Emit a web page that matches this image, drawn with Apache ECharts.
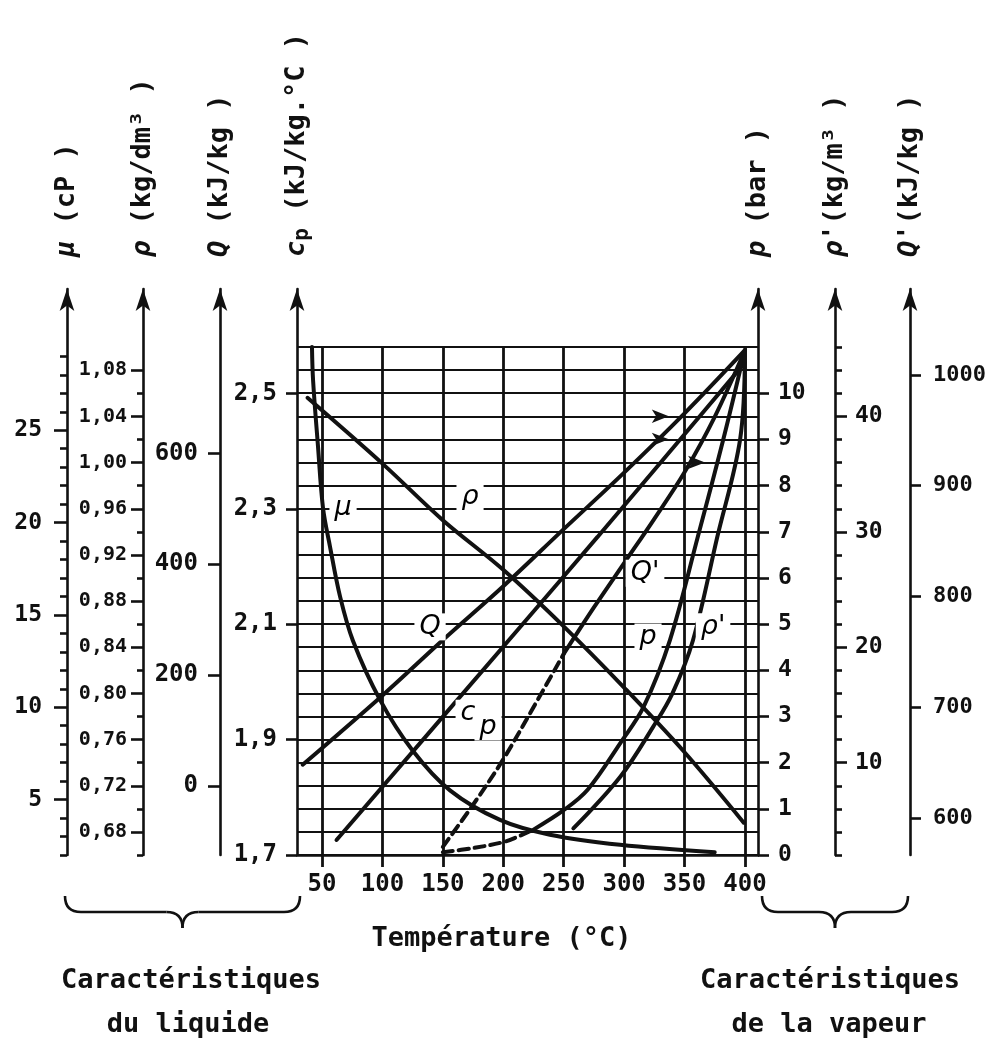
<!DOCTYPE html>
<html><head><meta charset="utf-8">
<script src="https://cdn.jsdelivr.net/npm/echarts@6/dist/echarts.min.js"></script>
<style>html,body{margin:0;padding:0;background:#fff}#c{width:990px;height:1043px}</style>
</head><body><div id="c"></div>
<script>
// ---------- tick values ----------
const tempTicks  = [50, 100, 150, 200, 250, 300, 350, 400];
const muMajor    = [5, 10, 15, 20, 25];
const muMinor    = [2, 3, 4, 6, 7, 8, 9, 11, 12, 13, 14, 16, 17, 18, 19, 21, 22, 23, 24, 26, 27, 28, 29];
const rhoMajor   = [0.68, 0.72, 0.76, 0.80, 0.84, 0.88, 0.92, 0.96, 1.00, 1.04, 1.08];
const rhoMinor   = [0.66, 0.70, 0.74, 0.78, 0.82, 0.86, 0.90, 0.94, 0.98, 1.02, 1.06];
const qMajor     = [0, 200, 400, 600];
const cpMajor    = [1.7, 1.9, 2.1, 2.3, 2.5];
const pMajor     = [0, 1, 2, 3, 4, 5, 6, 7, 8, 9, 10];
const rhoVMajor  = [10, 20, 30, 40];
const rhoVMinor  = [2, 4, 6, 8, 12, 14, 16, 18, 22, 24, 26, 28, 32, 34, 36, 38, 42, 44, 46];
const qVMajor    = [600, 700, 800, 900, 1000];

// ---------- series values: [temperature °C, value in own unit] ----------
const muData   = [[41.7, 29.5], [42.6, 27.7], [46.7, 24.1], [50.8, 20.8], [56.6, 18.7], [64.9, 16.0], [75.6, 13.6], [98, 10.4], [124.5, 7.7], [155.9, 5.5], [197.3, 3.9], [238.6, 3.1], [296.6, 2.55], [375, 2.15]];
const rhoData  = [[38, 1.056], [100, 0.999], [150, 0.950], [200, 0.907], [250, 0.858], [300, 0.805], [350, 0.749], [399, 0.688]];
const qData    = [[34, 38], [100, 163], [150, 263], [200, 360], [250, 463], [300, 565], [350, 672], [400, 786]];
const cpData   = [[62, 1.726], [214, 2.095], [278, 2.251], [346, 2.419], [400, 2.553]];
const qVDashed = [[150, 574], [175, 612], [200, 653], [225, 700], [250, 748]];
const qVSolid  = [[250, 748], [275, 790], [300, 830], [325, 870], [350, 912], [375, 962], [400, 1022]];
const pDashed  = [[150, 0.06], [175, 0.15], [200, 0.28], [215, 0.43], [225, 0.55]];
const pSolid   = [[225, 0.55], [250, 0.97], [270, 1.42], [297, 2.43], [316, 3.2], [338, 4.66], [361, 6.89], [382, 8.99], [400, 10.94]];
const rhoVData = [[258, 4.3], [297, 8.8], [324, 13.1], [340, 16.0], [357, 20.6], [377, 29.5], [396, 38.0], [400, 45.5]];

// ---------- text ----------
const curveLabelText = ['μ', 'ρ', 'Q', 'c', 'p', "Q'", 'p', "ρ'"];
const arrowMarks = [[337, 9.5], [337, 9], [367, 8.5]];

// ---------- layout / style (not data) ----------
const INK = '#111';
const MONO = '"DejaVu Sans Mono", monospace';
const SANS = '"DejaVu Sans", sans-serif';
const P_PLOT = 11;      // plot frame top, in bar
const P_SIDE = 12.26;   // side-axis line end, in bar-equivalent
// each property scale: value = a + b * (pressure-equivalent height)
const scales = {
  mu:   {a: 2,      b: 2.5},
  rho:  {a: 0.66,   b: 0.04},
  q:    {a: -125,   b: 250 / 3},
  cp:   {a: 1.7,    b: 0.08},
  p:    {a: 0,      b: 1},
  rhoV: {a: 2,      b: 4},
  qV:   {a: 1700/3, b: 125 / 3}
};
const curveLabelPos = [[67.4, 7.51], [172.5, 7.75], [139.4, 4.94], [170.8, 3.07], [187.4, 2.77], [317.3, 6.1], [319.8, 4.72], [373.6, 4.94]];

const comma = d => v => v.toFixed(d).replace('.', ',');

const yAxes = [];
yAxes.push({gridIndex: 0, type: 'value', min: 0, max: P_PLOT, interval: 0.5,
  axisLine: {show: false}, axisTick: {show: false}, axisLabel: {show: false},
  splitLine: {show: true, lineStyle: {color: INK, width: 2.2}}});
const hiddenIdx = {};
['mu', 'rho', 'q', 'cp', 'rhoV', 'qV'].forEach(k => {
  hiddenIdx[k] = yAxes.length;
  const s = scales[k];
  yAxes.push({gridIndex: 0, type: 'value', show: false, min: s.a, max: s.a + s.b * P_PLOT, splitLine: {show: false}});
});
hiddenIdx.p = 0;

function sideAxis(k, o) {
  const s = scales[k];
  const ax = {
    gridIndex: 1, type: 'value', position: o.pos, offset: o.offset,
    min: s.a, max: s.a + s.b * P_SIDE,
    splitLine: {show: false},
    axisLine: {show: !o.minor, onZero: false, symbol: ['none', 'arrow'], symbolSize: [11, 22],
      lineStyle: {color: INK, width: 2.6}},
    axisTick: {show: true, customValues: o.ticks, length: o.len, lineStyle: {color: INK, width: 2.6}},
    axisLabel: o.minor ? {show: false} : {show: true, customValues: o.ticks, formatter: o.fmt,
      margin: o.margin, fontSize: o.fs, fontFamily: MONO, fontWeight: 'bold', color: INK},
  };
  if (o.name) {
    ax.name = o.name;
    ax.nameLocation = 'end';
    ax.nameRotate = 90;
    ax.nameGap = 32;
    ax.nameTextStyle = {fontFamily: MONO, fontSize: 27, fontWeight: 'bold', color: INK,
      rich: {i: {fontFamily: MONO, fontSize: 27, fontStyle: 'italic', fontWeight: 'bold', color: INK},
             n: {fontFamily: MONO, fontSize: 27, fontWeight: 'bold', color: INK},
             s: {fontFamily: MONO, fontSize: 21, fontWeight: 'bold', color: INK, verticalAlign: 'bottom', padding: [12, 0, 0, 0]}}};
  }
  yAxes.push(ax);
}
const intFmt = v => String(Math.round(v));
sideAxis('mu',  {pos: 'left', offset: 230, ticks: muMajor, len: 13, fmt: intFmt, margin: 25, fs: 23, name: '{i|μ}{n| (cP )}'});
sideAxis('mu',  {pos: 'left', offset: 230, ticks: muMinor, len: 7, minor: true});
sideAxis('rho', {pos: 'left', offset: 154, ticks: rhoMajor, len: 12, fmt: comma(2), margin: 16, fs: 20, name: '{i|ρ}{n| (kg/dm³ )}'});
sideAxis('rho', {pos: 'left', offset: 154, ticks: rhoMinor, len: 6, minor: true});
sideAxis('q',   {pos: 'left', offset: 77, ticks: qMajor, len: 12, fmt: intFmt, margin: 22, fs: 24, name: '{i|Q}{n| (kJ/kg )}'});
sideAxis('cp',  {pos: 'left', offset: 0, ticks: cpMajor, len: 11, fmt: comma(1), margin: 20, fs: 24, name: '{i|c}{s|p}{n| (kJ/kg.°C )}'});
sideAxis('p',   {pos: 'right', offset: 0, ticks: pMajor, len: 11, fmt: intFmt, margin: 20, fs: 23, name: '{i|p}{n| (bar )}'});
sideAxis('rhoV',{pos: 'right', offset: 77, ticks: rhoVMajor, len: 12, fmt: intFmt, margin: 20, fs: 23, name: "{i|ρ'}{n|(kg/m³ )}"});
sideAxis('rhoV',{pos: 'right', offset: 77, ticks: rhoVMinor, len: 7, minor: true});
sideAxis('qV',  {pos: 'right', offset: 152, ticks: qVMajor, len: 11, fmt: intFmt, margin: 23, fs: 22, name: "{i|Q'}{n|(kJ/kg )}"});

function curve(data, k, dashed) {
  return {type: 'line', xAxisIndex: 0, yAxisIndex: hiddenIdx[k], data: data, smooth: 0.35,
    showSymbol: false, symbol: 'none', silent: true, z: 5,
    lineStyle: {color: INK, width: 4, type: dashed ? [10, 6] : 'solid', cap: 'round'}};
}

const labelData = curveLabelText.map((t, i) => ({value: curveLabelPos[i], name: t}));

function brace(x0, x1, yTop) {
  const xm = (x0 + x1) / 2, ym = yTop + 16, yt = yTop + 32, r = 16;
  const st = {stroke: INK, fill: null, lineWidth: 2.6};
  return [
    {type: 'bezierCurve', shape: {x1: x0, y1: yTop, cpx1: x0, cpy1: ym, x2: x0 + r, y2: ym}, style: st},
    {type: 'line', shape: {x1: x0 + r, y1: ym, x2: xm - r, y2: ym}, style: st},
    {type: 'bezierCurve', shape: {x1: xm - r, y1: ym, cpx1: xm, cpy1: ym, x2: xm, y2: yt}, style: st},
    {type: 'bezierCurve', shape: {x1: xm, y1: yt, cpx1: xm, cpy1: ym, x2: xm + r, y2: ym}, style: st},
    {type: 'line', shape: {x1: xm + r, y1: ym, x2: x1 - r, y2: ym}, style: st},
    {type: 'bezierCurve', shape: {x1: x1 - r, y1: ym, cpx1: x1, cpy1: ym, x2: x1, y2: yTop}, style: st}
  ];
}
const txt = (t, x, y) => ({type: 'text', style: {text: t, x: x, y: y, textAlign: 'center', textVerticalAlign: 'middle',
  font: 'bold 27px "DejaVu Sans Mono"', fill: INK}});

const option = {
  backgroundColor: '#fff',
  animation: false,
  grid: [
    {left: 297, right: 232, top: 347, bottom: 188},
    {left: 297, right: 232, top: 289, bottom: 188}
  ],
  xAxis: [
    {gridIndex: 0, type: 'value', min: 29.3, max: 410.8,
      axisLine: {show: true, onZero: false, lineStyle: {color: INK, width: 2.6}},
      axisTick: {show: true, customValues: tempTicks, length: 12, lineStyle: {color: INK, width: 2.8}},
      axisLabel: {show: true, customValues: tempTicks, margin: 18, fontSize: 24, fontFamily: MONO, fontWeight: 'bold', color: INK},
      splitLine: {show: true, lineStyle: {color: INK, width: 2.8}},
      name: 'Température (°C)', nameLocation: 'middle', nameGap: 70,
      nameTextStyle: {fontFamily: MONO, fontSize: 27, fontWeight: 'bold', color: INK, padding: [0, 52, 0, 0]}},
    {gridIndex: 1, type: 'value', min: 29.3, max: 410.8, show: false}
  ],
  yAxis: yAxes,
  series: [
    curve(muData, 'mu'),
    curve(rhoData, 'rho'),
    curve(qData, 'q'),
    curve(cpData, 'cp'),
    curve(qVDashed, 'qV', true),
    curve(qVSolid, 'qV'),
    curve(pDashed, 'p', true),
    curve(pSolid, 'p'),
    curve(rhoVData, 'rhoV'),
    {type: 'scatter', xAxisIndex: 0, yAxisIndex: 0, data: labelData, symbolSize: 0, silent: true, z: 10,
      itemStyle: {opacity: 1},
      label: {show: true, position: 'inside', formatter: p => p.name, fontFamily: SANS, fontStyle: 'italic',
        fontSize: 27, color: '#000', opacity: 1, backgroundColor: '#fff', padding: [0, 5]}},
    {type: 'scatter', xAxisIndex: 0, yAxisIndex: 0, data: arrowMarks, symbol: 'arrow', symbolRotate: -90,
      symbolSize: [10, 17], silent: true, z: 9, itemStyle: {color: INK, opacity: 1}}
  ],
  graphic: [].concat(brace(65, 300, 896), brace(762, 908, 896), [
    txt('Caractéristiques', 191, 981), txt('du liquide', 188, 1025),
    txt('Caractéristiques', 830, 981), txt('de la vapeur', 829, 1025)
  ])
};
const chart = echarts.init(document.getElementById('c'), null, {renderer: 'canvas'});
chart.setOption(option);
</script></body></html>
